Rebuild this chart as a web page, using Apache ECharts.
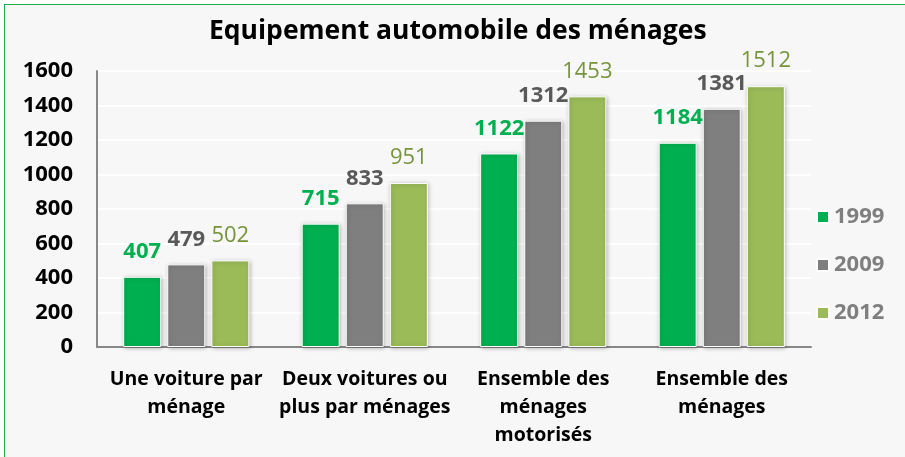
<!DOCTYPE html>
<html>
<head>
<meta charset="utf-8">
<script src="https://cdn.jsdelivr.net/npm/echarts@6/dist/echarts.min.js"></script>
<style>
  html, body { margin: 0; padding: 0; background: #ffffff; }
  #frame {
    position: absolute; left: 4px; top: 4px;
    width: 920px; height: 470px;
    border: 1.5px solid #1fae4b;
    background: #f7f7f7;
  }
  #chart { width: 100%; height: 100%; }
</style>
</head>
<body>
<div id="frame"><div id="chart"></div></div>
<script>
// Household car ownership (thousands of households)
const categories = [
  'Une voiture par\nménage',
  'Deux voitures ou\nplus par ménages',
  'Ensemble des\nménages\nmotorisés',
  'Ensemble des\nménages'
];
const years = ['1999', '2009', '2012'];
const values1999 = [407, 715, 1122, 1184];
const values2009 = [479, 833, 1312, 1381];
const values2012 = [502, 951, 1453, 1512];
const yTicks = [0, 200, 400, 600, 800, 1000, 1200, 1400, 1600];

const FONT = '"Open Sans", Lato, sans-serif';
const colors = ['#00b050', '#7f7f7f', '#9bbb59'];
const labelStyles = [
  { color: '#00b050', fontWeight: 'bold' },
  { color: '#595959', fontWeight: 'bold' },
  { color: '#77933c', fontWeight: 'normal' }
];
const seriesValues = [values1999, values2009, values2012];

const chart = echarts.init(document.getElementById('chart'), null, { renderer: 'canvas' });

chart.setOption({
  backgroundColor: '#f7f7f7',
  textStyle: { fontFamily: FONT },
  title: {
    text: 'Equipement automobile des ménages',
    left: 199,
    top: 8,
    textStyle: { fontFamily: FONT, fontSize: 26.5, fontWeight: 'bold', color: '#000000' }
  },
  legend: {
    orient: 'vertical',
    left: 806,
    top: 196,
    itemWidth: 12,
    itemHeight: 12,
    itemGap: 26,
    icon: 'rect',
    textStyle: { fontFamily: FONT, fontSize: 22, fontWeight: 'bold', color: '#7f7f7f' },
    data: years
  },
  grid: { left: 92, top: 66, width: 714, height: 276, containLabel: false },
  xAxis: {
    type: 'category',
    data: categories,
    axisLine: { lineStyle: { color: '#888888', width: 2 } },
    axisTick: { show: false },
    axisLabel: {
      interval: 0,
      margin: 18,
      fontFamily: FONT, fontSize: 19.5, fontWeight: 'bold', color: '#000000',
      lineHeight: 28
    }
  },
  yAxis: {
    type: 'value',
    min: yTicks[0],
    max: yTicks[yTicks.length - 1],
    interval: yTicks[1] - yTicks[0],
    axisLine: { show: true, lineStyle: { color: '#888888', width: 2 } },
    axisTick: { show: false },
    splitLine: { lineStyle: { color: '#ffffff', width: 2 } },
    axisLabel: {
      margin: 24,
      formatter: v => String(v),
      fontFamily: FONT, fontSize: 22, fontWeight: 'bold', color: '#000000'
    }
  },
  series: years.map((y, i) => ({
    name: y,
    type: 'bar',
    data: seriesValues[i],
    barWidth: 38,
    barGap: '16%',
    itemStyle: {
      color: colors[i],
      borderColor: '#ffffff',
      borderWidth: 1,
      shadowColor: 'rgba(0,0,0,0.25)',
      shadowBlur: 4,
      shadowOffsetX: 1,
      shadowOffsetY: 1
    },
    label: {
      show: true,
      position: 'top',
      distance: 14,
      fontFamily: FONT,
      fontSize: 22,
      fontWeight: labelStyles[i].fontWeight,
      color: labelStyles[i].color
    }
  }))
});
</script>
</body>
</html>
